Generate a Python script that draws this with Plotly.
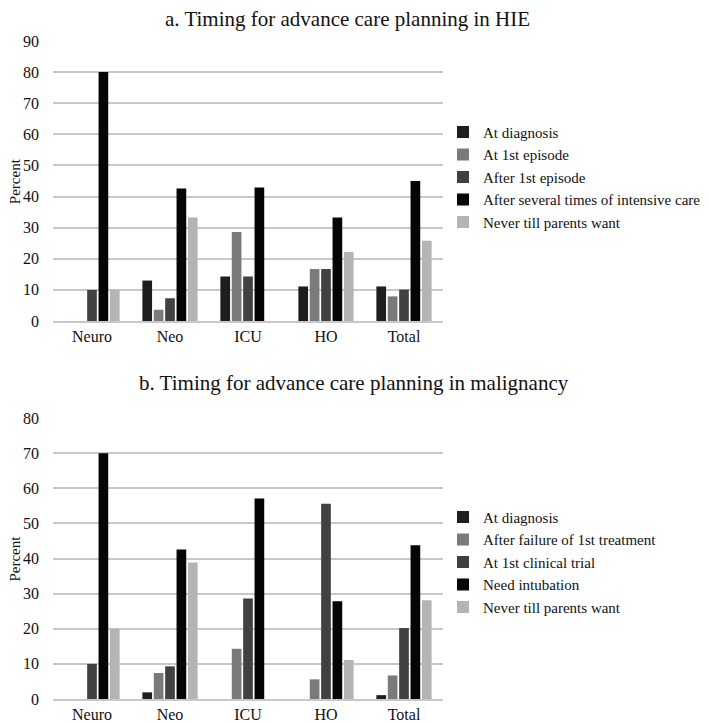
import plotly.graph_objects as go
from plotly.subplots import make_subplots

units = ["Neuro", "Neo", "ICU", "HO", "Total"]

# a. HIE
hie_names = ["At diagnosis", "At 1st episode", "After 1st episode",
             "After several times of intensive care", "Never till parents want"]
hie_diag = [0, 13.0, 14.3, 11.1, 11.1]
hie_first = [0, 3.6, 28.6, 16.7, 7.9]
hie_after_first = [10.0, 7.3, 14.3, 16.7, 10.1]
hie_several = [80.0, 42.6, 42.9, 33.3, 45.0]
hie_never = [10.0, 33.3, 0, 22.2, 25.8]

# b. malignancy
mal_names = ["At diagnosis", "After failure of 1st treatment", "At 1st clinical trial",
             "Need intubation", "Never till parents want"]
mal_diag = [0, 1.9, 0, 0, 1.1]
mal_fail = [0, 7.4, 14.3, 5.6, 6.7]
mal_trial = [10.0, 9.3, 28.6, 55.6, 20.2]
mal_intub = [70.0, 42.6, 57.1, 27.8, 43.8]
mal_never = [20.0, 38.9, 0, 11.1, 28.1]

colors = ["#1e1e1e", "#7a7a7a", "#414141", "#050505", "#b4b4b4"]
font = "Liberation Serif, Times New Roman, serif"

fig = make_subplots(rows=2, cols=1)

hie = [hie_diag, hie_first, hie_after_first, hie_several, hie_never]
for name, vals, c in zip(hie_names, hie, colors):
    fig.add_trace(go.Bar(x=units, y=vals, name=name, marker_color=c,
                         marker_line_width=0, legend="legend"), row=1, col=1)

mal = [mal_diag, mal_fail, mal_trial, mal_intub, mal_never]
for name, vals, c in zip(mal_names, mal, colors):
    fig.add_trace(go.Bar(x=units, y=vals, name=name, marker_color=c,
                         marker_line_width=0, legend="legend2"), row=2, col=1)

# page body adds an 8px offset, so the figure is 8px smaller on each side
grid = "#c8c8c8"
fig.update_layout(
    width=701, height=715,
    margin=dict(l=45, r=266, t=33, b=24, autoexpand=False),
    plot_bgcolor="white", paper_bgcolor="white",
    font=dict(family=font, size=16, color="#111111"),
    barmode="group", bargap=0.27, bargroupgap=0.15,
    xaxis=dict(domain=[0, 1]),
    yaxis=dict(domain=[0.5745, 1.0]),
    yaxis2=dict(domain=[0.0, 0.427]),
    legend=dict(x=1.0, xanchor="left", y=0.793, yanchor="middle",
                font=dict(size=15), tracegroupgap=0, itemwidth=30),
    legend2=dict(x=1.0, xanchor="left", y=0.208, yanchor="middle",
                 font=dict(size=15), tracegroupgap=0, itemwidth=30),
    annotations=[
        dict(text="a. Timing for advance care planning in HIE", x=0.756, y=1.033,
             xref="paper", yref="paper", xanchor="center", yanchor="middle",
             showarrow=False, font=dict(size=21)),
        dict(text="b. Timing for advance care planning in malignancy", x=0.772, y=0.480,
             xref="paper", yref="paper", xanchor="center", yanchor="middle",
             showarrow=False, font=dict(size=21)),
        dict(text="Percent", textangle=-90, x=-0.0974, y=0.787,
             xref="paper", yref="paper", xanchor="center", yanchor="middle",
             showarrow=False, font=dict(size=15)),
        dict(text="Percent", textangle=-90, x=-0.0974, y=0.2135,
             xref="paper", yref="paper", xanchor="center", yanchor="middle",
             showarrow=False, font=dict(size=15)),
    ],
)
fig.update_xaxes(showgrid=False, showline=True, linecolor=grid, linewidth=1.5,
                 ticks="", ticklabelstandoff=0, tickfont=dict(size=16), automargin=False)
fig.update_yaxes(showgrid=True, gridcolor=grid, gridwidth=1.5, zeroline=False,
                 ticks="", ticklabelstandoff=13, tickfont=dict(size=16), automargin=False)
fig.update_yaxes(range=[0, 90], dtick=10, row=1, col=1)
fig.update_yaxes(range=[0, 80], dtick=10, row=2, col=1)

fig.write_html("out.html")
